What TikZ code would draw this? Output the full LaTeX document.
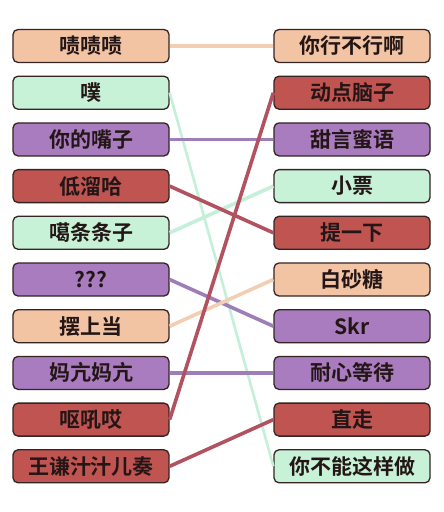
\documentclass[tikz,border=0pt]{standalone}
\usepackage{fontspec}
\usepackage{tikz}
\usepackage{xcolor}
\usetikzlibrary{positioning}
\newfontfamily\cjk{Noto Sans CJK SC}[BoldFont={Noto Sans CJK SC Bold}]
\definecolor{peachfill}{RGB}{242,196,164}
\definecolor{mintfill}{RGB}{199,242,215}
\definecolor{plumfill}{RGB}{168,124,190}
\definecolor{brickfill}{RGB}{192,84,80}
\definecolor{peachline}{RGB}{242,206,178}
\definecolor{mintline}{RGB}{196,240,218}
\definecolor{plumline}{RGB}{158,126,184}
\definecolor{brickline}{RGB}{178,82,96}
\definecolor{boxedge}{RGB}{52,36,36}
\definecolor{inkdark}{RGB}{36,22,22}

\begin{document}
\begin{tikzpicture}[x=1pt, y=-1pt,
		node distance=12.4pt,
		wordbox/.style={draw=boxedge, line width=1.3pt, rounded corners=5pt,
			minimum width=156pt, minimum height=33pt, inner sep=0pt,
			font=\cjk\bfseries\fontsize{21}{21}\selectfont, text=inkdark},
		peach/.style={wordbox, fill=peachfill},
		mint/.style={wordbox, fill=mintfill},
		plum/.style={wordbox, fill=plumfill},
		brick/.style={wordbox, fill=brickfill},
		link/.style={line width=3.6pt}
	]
		\useasboundingbox[fill=white] (0,0) rectangle (444,512);
		% left column
		\node[peach] (l1) at (91,46) {啧啧啧};
		\node[mint, below=of l1] (l2) {噗};
		\node[plum, below=of l2] (l3) {你的嘴子};
		\node[brick, below=of l3] (l4) {低溜哈};
		\node[mint, below=of l4] (l5) {噶条条子};
		\node[plum, below=of l5] (l6) {???};
		\node[peach, below=of l6] (l7) {摆上当};
		\node[plum, below=of l7] (l8) {妈亢妈亢};
		\node[brick, below=of l8] (l9) {呕吼哎};
		\node[brick, below=of l9] (l10) {王谦汁汁儿奏};
		% right column
		\node[peach] (r1) at (352,46) {你行不行啊};
		\node[brick, below=of r1] (r2) {动点脑子};
		\node[plum, below=of r2] (r3) {甜言蜜语};
		\node[mint, below=of r3] (r4) {小票};
		\node[brick, below=of r4] (r5) {提一下};
		\node[peach, below=of r5] (r6) {白砂糖};
		\node[plum, below=of r6] (r7) {Skr};
		\node[plum, below=of r7] (r8) {耐心等待};
		\node[brick, below=of r8] (r9) {直走};
		\node[mint, below=of r9] (r10) {你不能这样做};
		% links
		\draw[link, draw=mintline, line width=2.6pt] (l2.east) -- (r10.west);
		\draw[link, draw=mintline] (l5.east) -- (r4.west);
		\foreach \a/\b/\c in {l1/r1/peachline,l3/r3/plumline,l4/r5/brickline,
				l6/r7/plumline,l7/r6/peachline,l8/r8/plumline,l9/r2/brickline,l10/r9/brickline}
			\draw[link, draw=\c] (\a.east) -- (\b.west);
	\end{tikzpicture}
\end{document}
